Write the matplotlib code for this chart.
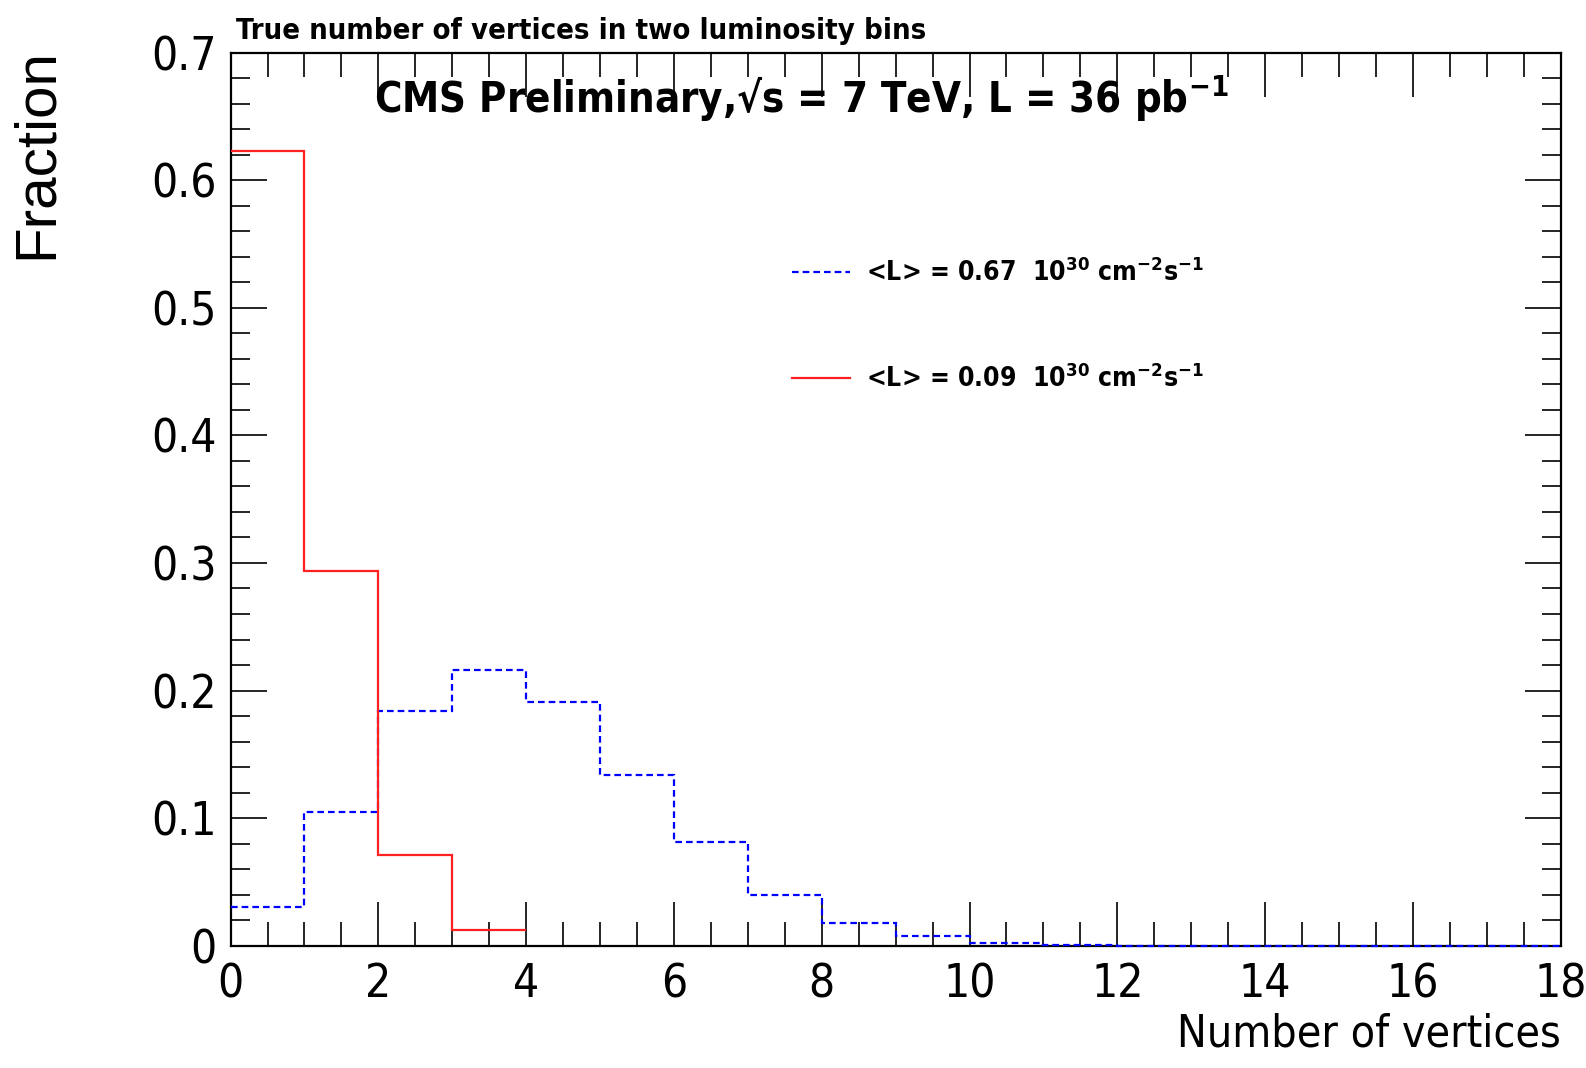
import matplotlib
matplotlib.use('Agg')
import matplotlib.pyplot as plt
from matplotlib import font_manager
from matplotlib.ticker import MultipleLocator

# pick a narrow font if one is installed (ROOT look), else DejaVu condensed
names = {f.name for f in font_manager.fontManager.ttflist}
NARROW = 'Liberation Sans Narrow' if 'Liberation Sans Narrow' in names else 'DejaVu Sans'
STRETCH = 'normal' if NARROW == 'Liberation Sans Narrow' else 'condensed'

plt.rcParams.update({
    'font.family': [NARROW, 'DejaVu Sans'],
    'mathtext.fontset': 'custom',
    'mathtext.rm': NARROW + ':weight=bold:stretch=' + STRETCH,
    'mathtext.bf': NARROW + ':weight=bold:stretch=' + STRETCH,
    'mathtext.default': 'bf',
})

# histogram data (fraction per bin of true vertex number)
edges_hi = list(range(0, 19))
frac_hi = [0.030, 0.105, 0.184, 0.216, 0.191, 0.134, 0.081, 0.040, 0.018,
           0.008, 0.002, 0.0005, 0.0, 0.0, 0.0, 0.0, 0.0, 0.0]
edges_lo = [0, 1, 2, 3, 4]
frac_lo = [0.623, 0.294, 0.071, 0.012]

label_hi = '<L> = 0.67  10$^{30}$ cm$^{-2}$s$^{-1}$'
label_lo = '<L> = 0.09  10$^{30}$ cm$^{-2}$s$^{-1}$'

fig = plt.figure(figsize=(15.86, 10.68), dpi=100)
ax = fig.add_axes([0.1454, 0.1145, 0.984 - 0.1454, 0.9507 - 0.1145])

h_hi = ax.stairs(frac_hi, edges_hi, color='#0000ff', linestyle=(0, (3, 1.8)),
                 linewidth=1.6, baseline=None, zorder=3, clip_on=False)
h_lo = ax.stairs(frac_lo, edges_lo, color='#ff2020', linewidth=1.6, baseline=None,
                 zorder=3)
ax.set_xlim(0, 18)
ax.set_ylim(0, 0.7)

for s in ax.spines.values():
    s.set_linewidth(1.6)

ax.xaxis.set_major_locator(MultipleLocator(2))
ax.xaxis.set_minor_locator(MultipleLocator(0.5))
ax.yaxis.set_major_locator(MultipleLocator(0.1))
ax.yaxis.set_minor_locator(MultipleLocator(0.02))
ax.tick_params(which='both', direction='in', top=True, right=True, width=1.2)
ax.tick_params(axis='x', which='major', length=32, pad=12)
ax.tick_params(axis='x', which='minor', length=17)
ax.tick_params(axis='y', which='major', length=26, pad=10)
ax.tick_params(axis='y', which='minor', length=14)
ax.set_yticks([0, 0.1, 0.2, 0.3, 0.4, 0.5, 0.6, 0.7],
              ['0', '0.1', '0.2', '0.3', '0.4', '0.5', '0.6', '0.7'])
for lab in ax.get_xticklabels() + ax.get_yticklabels():
    lab.set_fontsize(33)
    lab.set_fontstretch(STRETCH)

ax.set_xlabel('Number of vertices', fontsize=32, loc='right', labelpad=4,
              fontstretch=STRETCH)
fig.text(0.023, 0.955, 'Fraction', rotation=90, ha='center', va='top',
         fontsize=42, family='Liberation Sans')

fig.text(0.149, 0.9635, 'True number of vertices in two luminosity bins',
         fontsize=21, fontweight='bold', ha='left', va='baseline',
         fontstretch=STRETCH)
ax.text(0.1075, 0.932, 'CMS Preliminary,\u221as = 7 TeV, L = 36 pb$^{-1}$',
        transform=ax.transAxes, fontsize=30, fontweight='bold', ha='left',
        va='baseline', fontstretch=STRETCH)

ax.legend(handles=[h_hi, h_lo], labels=[label_hi, label_lo], loc='center left',
          bbox_to_anchor=(0.422, 0.694), frameon=False, borderpad=0,
          borderaxespad=0, handlelength=2.2, handletextpad=0.6, labelspacing=2.95,
          prop={'weight': 'bold', 'size': 19, 'stretch': STRETCH})

fig.savefig('out.png', dpi=100)
